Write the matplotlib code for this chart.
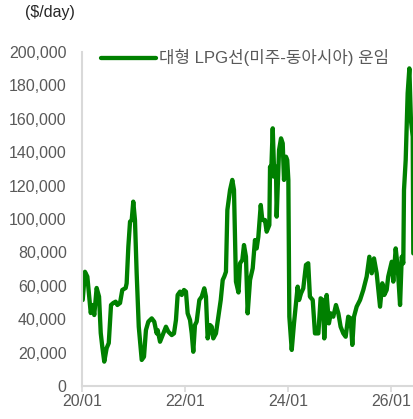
import matplotlib
matplotlib.use("Agg")
import matplotlib.pyplot as plt
import pandas as pd

dates = [
    "2020-01-06", "2020-01-22", "2020-02-08", "2020-03-03", "2020-03-17", "2020-03-28",
    "2020-04-14", "2020-05-01", "2020-05-13", "2020-05-24", "2020-06-07", "2020-06-24",
    "2020-07-09", "2020-07-25", "2020-08-10", "2020-08-27", "2020-09-08", "2020-09-27",
    "2020-10-13", "2020-11-06", "2020-11-13", "2020-11-25", "2020-12-07", "2020-12-19",
    "2020-12-30", "2021-01-11", "2021-01-23", "2021-02-07", "2021-02-28", "2021-03-16",
    "2021-03-30", "2021-04-16", "2021-05-10", "2021-05-28", "2021-06-14", "2021-06-21",
    "2021-07-08", "2021-07-31", "2021-08-19", "2021-09-05", "2021-09-29", "2021-10-15",
    "2021-10-29", "2021-11-10", "2021-11-27", "2021-12-09", "2021-12-25", "2022-01-08",
    "2022-01-20", "2022-02-06", "2022-02-18", "2022-03-01", "2022-03-13", "2022-03-25",
    "2022-04-13", "2022-04-30", "2022-05-18", "2022-05-30", "2022-06-11", "2022-06-28",
    "2022-07-10", "2022-07-21", "2022-08-09", "2022-08-26", "2022-09-12", "2022-09-26",
    "2022-10-07", "2022-10-19", "2022-10-29", "2022-11-17", "2022-12-03", "2022-12-15",
    "2022-12-29", "2023-01-16", "2023-01-27", "2023-02-12", "2023-02-24", "2023-03-10",
    "2023-03-22", "2023-04-08", "2023-04-27", "2023-05-13", "2023-05-25", "2023-06-06",
    "2023-06-23", "2023-07-04", "2023-07-23", "2023-08-04", "2023-08-23", "2023-08-28",
    "2023-09-04", "2023-09-16", "2023-09-27", "2023-10-09", "2023-10-14", "2023-10-31",
    "2023-11-14", "2023-11-26", "2023-12-05", "2023-12-19", "2023-12-28", "2024-01-05",
    "2024-01-12", "2024-01-29", "2024-02-14", "2024-02-28", "2024-03-11", "2024-03-21",
    "2024-04-04", "2024-04-20", "2024-05-09", "2024-05-25", "2024-06-06", "2024-06-26",
    "2024-07-12", "2024-08-05", "2024-08-21", "2024-09-05", "2024-09-16", "2024-10-03",
    "2024-10-19", "2024-11-01", "2024-11-19", "2024-12-08", "2024-12-25", "2025-01-10",
    "2025-01-29", "2025-02-15", "2025-03-05", "2025-03-22", "2025-04-03", "2025-04-15",
    "2025-05-04", "2025-05-28", "2025-06-20", "2025-07-14", "2025-08-02", "2025-08-19",
    "2025-09-04", "2025-09-23", "2025-10-17", "2025-11-02", "2025-11-16", "2025-12-03",
    "2025-12-14", "2026-01-08", "2026-01-19", "2026-02-05", "2026-02-19", "2026-03-08",
    "2026-03-20", "2026-03-31", "2026-04-05", "2026-04-17", "2026-05-01", "2026-05-13",
    "2026-05-24", "2026-06-06", "2026-06-10",
]

rates = [
    51500, 68400, 65500, 43700, 48500, 42500,
    58700, 53500, 31700, 23500, 14600, 22700,
    25700, 48500, 49700, 50500, 48500, 49700,
    57500, 58700, 61500, 83400, 98400, 99400,
    110400, 99400, 67700, 35500, 15600, 17500,
    33500, 38500, 40500, 38500, 31500, 33500,
    26500, 31500, 35500, 32500, 30500, 31500,
    39500, 54500, 56500, 54500, 57500, 56500,
    43500, 39500, 31500, 20500, 36500, 38500,
    51500, 53500, 58500, 53500, 28500, 36500,
    35500, 28500, 31500, 41500, 51500, 63500,
    65500, 68400, 105400, 117400, 123400, 117400,
    62500, 56000, 73500, 75400, 84400, 77400,
    43500, 63500, 70500, 87400, 82400, 89400,
    108400, 99400, 99400, 92400, 96400, 131300,
    125300, 154300, 125300, 131300, 101400, 141300,
    148300, 145300, 123400, 137300, 135300, 123400,
    41500, 21600, 37500, 49500, 59500, 51500,
    55500, 58500, 72500, 73500, 53500, 51500,
    31500, 31500, 52500, 51500, 28500, 54500,
    37500, 43500, 41500, 48500, 43500, 35500,
    31500, 29500, 41500, 40500, 24600, 41500,
    47500, 51500, 57500, 65500, 77400, 67500,
    76400, 67500, 47500, 61500, 54500, 57500,
    65500, 74400, 62500, 82400, 71400, 48500,
    77400, 73500, 117400, 135300, 175300, 190200,
    159300, 149300, 79400,
]

series_label = "대형 LPG선(미주-동아시아) 운임"
unit_label = "($/day)"
xtick_dates = ["2020-01-01", "2022-01-01", "2024-01-01", "2026-01-01"]
yticks = [0, 20000, 40000, 60000, 80000, 100000, 120000, 140000, 160000, 180000, 200000]

text_color = "#595959"
spine_color = "#d9d9d9"
fs = 11.5
fonts = ["Liberation Sans", "Noto Sans CJK KR", "DejaVu Sans"]
plt.rcParams["font.family"] = fonts

x = pd.to_datetime(dates)

fig = plt.figure(figsize=(4.14, 4.19), dpi=100)
ax = fig.add_axes([82 / 414, 33 / 419, 332 / 414, 334 / 419])

ax.plot(x, rates, color="#008000", lw=3.1, solid_joinstyle="round",
        solid_capstyle="round", label=series_label)

ax.set_xlim(pd.Timestamp("2020-01-01"), pd.Timestamp("2026-06-15"))
ax.set_ylim(0, 200000)
ax.set_yticks(yticks)
ax.set_yticklabels([f"{v:,}" for v in yticks], fontsize=fs, color=text_color)
xt = pd.to_datetime(xtick_dates)
ax.set_xticks(xt)
ax.set_xticklabels([d.strftime("%y/%m") for d in xt], fontsize=fs, color=text_color)

for s in ["top", "right"]:
    ax.spines[s].set_visible(False)
for s in ["left", "bottom"]:
    ax.spines[s].set_color(spine_color)
    ax.spines[s].set_linewidth(1.5)
ax.tick_params(axis="y", length=0, pad=11)
ax.tick_params(axis="x", length=4, width=1.2, color=spine_color, pad=2)

leg = ax.legend(loc="upper left", bbox_to_anchor=(0.058, 1.008), frameon=False,
                fontsize=12.1, handlelength=3.25, handletextpad=0.2,
                borderpad=0, borderaxespad=0)
for t in leg.get_texts():
    t.set_color(text_color)

fig.text(25 / 414, 1 - 13 / 419, unit_label, fontsize=fs, color="#262626",
         ha="left", va="center")

fig.savefig("out.png", dpi=100)
